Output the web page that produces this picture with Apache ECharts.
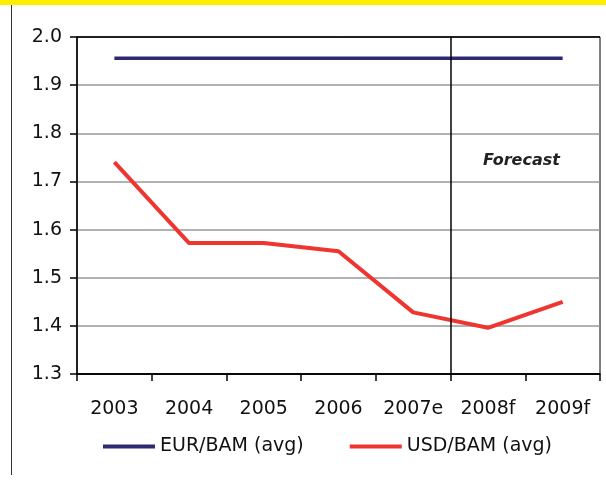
<!DOCTYPE html>
<html>
<head>
<meta charset="utf-8">
<script src="https://cdn.jsdelivr.net/npm/echarts@6/dist/echarts.min.js"></script>
<style>
html,body{margin:0;padding:0;background:#fff;}
#chart{width:606px;height:481px;}
</style>
</head>
<body>
<div id="chart"></div>
<script>
var years = ['2003', '2004', '2005', '2006', '2007e', '2008f', '2009f'];
var eurBam = [1.956, 1.956, 1.956, 1.956, 1.956, 1.956, 1.956];
var usdBam = [1.74, 1.572, 1.572, 1.555, 1.428, 1.396, 1.45];
var yTicks = {min: 1.3, max: 2.0, step: 0.1};
var forecastFrom = 5; // index of first forecast year

var font = 'DejaVu Sans';
var chart = echarts.init(document.getElementById('chart'));

chart.setOption({
    animation: false,
    backgroundColor: '#fff',
    textStyle: {fontFamily: font},
    graphic: [
        {type: 'rect', left: 0, top: 0, shape: {width: 606, height: 5}, style: {fill: '#ffee00'}},
        {type: 'line', shape: {x1: 11.5, y1: 5, x2: 11.5, y2: 475}, style: {stroke: '#333', lineWidth: 1}}
    ],
    title: {
        text: 'Forecast',
        left: 478,
        top: 148,
        textStyle: {fontFamily: font, fontSize: 16, fontWeight: 'bold', fontStyle: 'italic', color: '#222'}
    },
    grid: {left: 77, right: 6, top: 37, bottom: 107, show: true, borderColor: '#000', borderWidth: 1},
    legend: {
        bottom: 20,
        left: 98,
        itemWidth: 52,
        itemHeight: 4,
        itemGap: 46,
        icon: 'rect',
        textStyle: {fontFamily: font, fontSize: 19, color: '#111'},
        data: ['EUR/BAM (avg)', 'USD/BAM (avg)']
    },
    xAxis: [
        {
            type: 'category',
            data: years,
            boundaryGap: true,
            axisLine: {lineStyle: {color: '#000', width: 1.5}},
            axisTick: {show: true, interval: 0, length: 7, lineStyle: {color: '#000', width: 1.5}},
            axisLabel: {interval: 0, fontFamily: font, fontSize: 19, color: '#111', margin: 26}
        },
        {
            // helper axis spanning category boundaries, used for the forecast divider
            type: 'value',
            min: 0,
            max: years.length,
            show: false,
            splitLine: {show: false}
        }
    ],
    yAxis: {
        type: 'value',
        min: yTicks.min,
        max: yTicks.max,
        interval: yTicks.step,
        axisLine: {show: true, lineStyle: {color: '#000', width: 1.5}},
        axisTick: {show: true, length: 7, lineStyle: {color: '#000', width: 1.5}},
        axisLabel: {
            fontFamily: font, fontSize: 19, color: '#111', margin: 15,
            formatter: function (v) { return v.toFixed(1); }
        },
        splitLine: {lineStyle: {color: ['#000', '#999', '#999', '#999', '#999', '#999', '#999', '#000'], width: 1.5}}
    },
    series: [
        {
            name: 'EUR/BAM (avg)',
            type: 'line',
            data: eurBam,
            symbol: 'none',
            itemStyle: {color: '#2e2a72'},
            lineStyle: {color: '#2e2a72', width: 3.5}
        },
        {
            name: 'USD/BAM (avg)',
            type: 'line',
            data: usdBam,
            symbol: 'none',
            itemStyle: {color: '#ee3530'},
            lineStyle: {color: '#ee3530', width: 4}
        },
        {
            name: 'divider',
            type: 'line',
            xAxisIndex: 1,
            data: [],
            symbol: 'none',
            markLine: {
                silent: true,
                symbol: 'none',
                label: {show: false},
                lineStyle: {color: '#000', width: 1.5, type: 'solid'},
                data: [{xAxis: forecastFrom}]
            }
        }
    ]
});
</script>
</body>
</html>
